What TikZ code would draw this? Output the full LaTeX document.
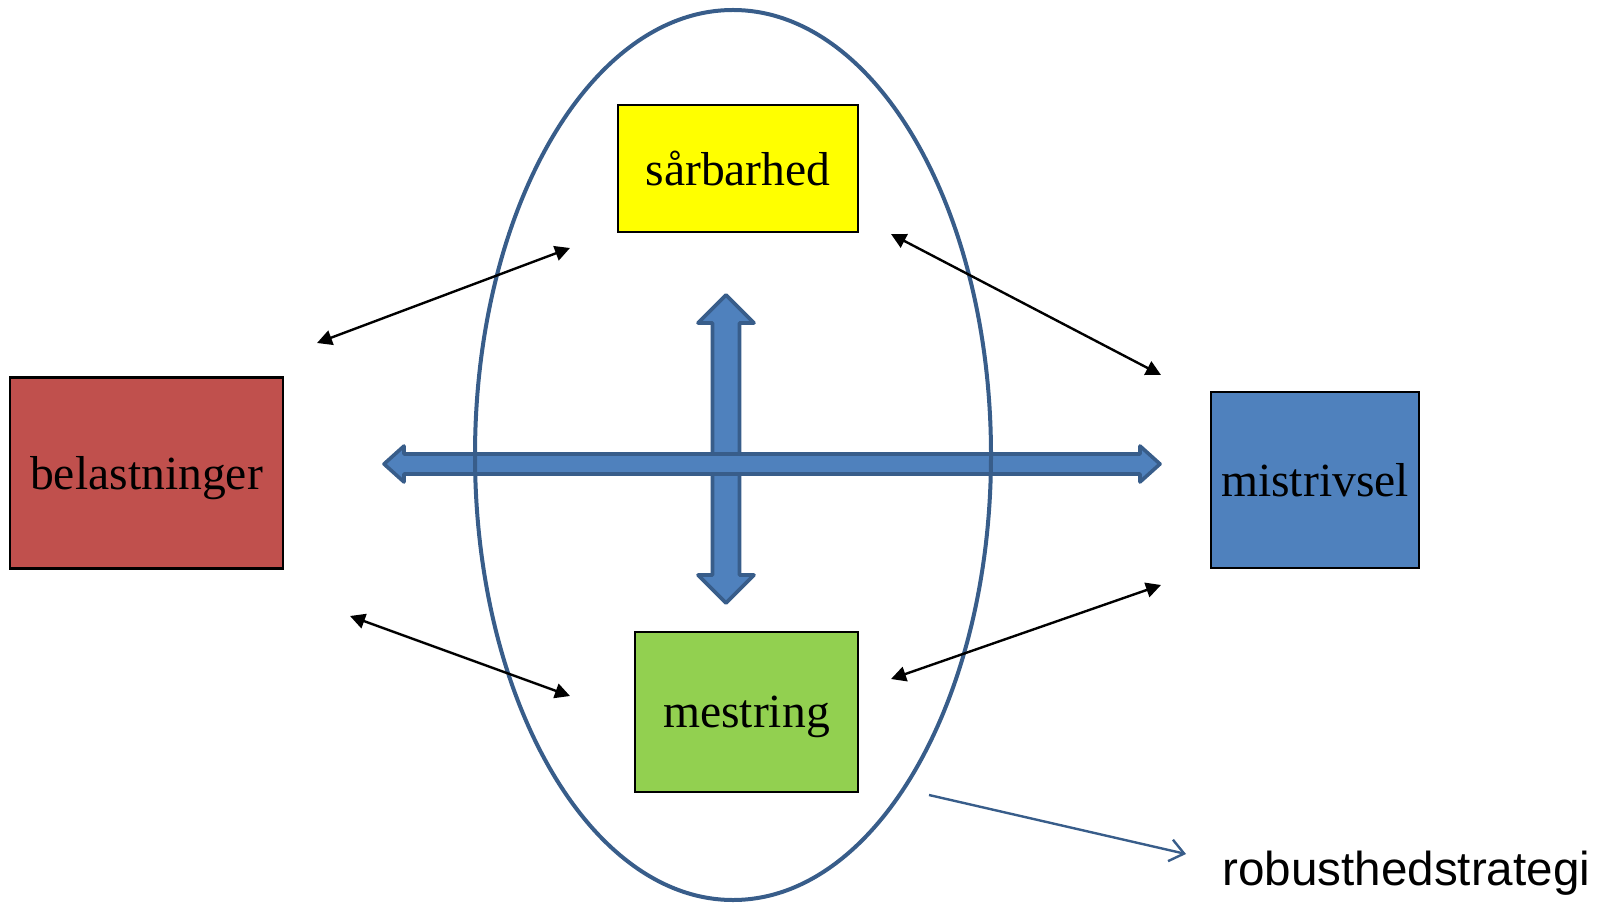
\documentclass[tikz,border=0pt]{standalone}
\usepackage{fontspec}
\setmainfont{Liberation Serif}
\newfontfamily\arialfont{Liberation Sans}
\usetikzlibrary{shapes.geometric,arrows.meta}

\definecolor{edgeblue}{HTML}{385D8A}
\definecolor{fatblue}{HTML}{4F81BD}
\definecolor{boxred}{HTML}{C0504D}
\definecolor{boxgreen}{HTML}{92D050}
\definecolor{boxyellow}{HTML}{FFFF00}

\begin{document}
\begin{tikzpicture}[x=0.5pt,y=-0.5pt,
        box/.style={draw,line width=1.1pt,inner sep=0pt,text depth=0pt,
            font=\fontsize{23.8pt}{28pt}\selectfont},
        link/.style={line width=1.2pt,
            {Triangle[length=7.5pt,width=7.5pt]}-{Triangle[length=7.5pt,width=7.5pt]}},
        fat/.style={fill=fatblue,draw=edgeblue,line width=1.8pt,line join=round}]
    \useasboundingbox (0,0) rectangle (1610,903);

    % the big cross
    \draw[fat] (726,295) -- (754,323) -- (739.5,323) -- (739.5,575) -- (754,575)
        -- (726,603) -- (698,575) -- (712.5,575) -- (712.5,323) -- (698,323) -- cycle;
    \draw[fat] (384,464) -- (404,446) -- (404,454) -- (1140,454) -- (1140,446)
        -- (1160,464) -- (1140,482) -- (1140,474) -- (404,474) -- (404,482) -- cycle;

    \node (ring) [ellipse,draw=edgeblue,line width=2pt,inner sep=0pt,
        minimum width=258pt,minimum height=445pt] at (733,455) {};

    \node (sar) [box,fill=boxyellow,minimum width=120pt,minimum height=63.5pt] at (738,168.5) {sårbarhed};
    \node (bel) [box,fill=boxred,minimum width=136.5pt,minimum height=95.5pt] at (146.5,473) {belastninger};
    \node (mis) [box,fill=fatblue,minimum width=104pt,minimum height=88pt] at (1315,480) {mistrivsel};
    \node (mes) [box,fill=boxgreen,minimum width=111.5pt,minimum height=80pt] at (746.5,712) {mestring};
    \node (rob) [anchor=base west,inner sep=0pt,font=\arialfont\fontsize{23.8pt}{28pt}\selectfont]
        at (1222,885) {robusthedstrategi};

    % loose ends of the thin arrows
    \coordinate (belup) at (317,343);
    \coordinate (sarleft) at (570,248);
    \coordinate (sarright) at (891,234);
    \coordinate (misup) at (1161,375);
    \coordinate (beldown) at (350,616);
    \coordinate (mesleft) at (570,696);
    \coordinate (mesright) at (891,679);
    \coordinate (misdown) at (1161,585);
    \coordinate (robfrom) at (929,795);
    \coordinate (robto) at (1186,854);

    \draw[link] (belup) -- (sarleft);
    \draw[link] (sarright) -- (misup);
    \draw[link] (beldown) -- (mesleft);
    \draw[link] (mesright) -- (misdown);
    \draw[edgeblue,line width=1.2pt,-{Straight Barb[length=7pt,width=11pt]}] (robfrom) -- (robto);
\end{tikzpicture}
\end{document}
